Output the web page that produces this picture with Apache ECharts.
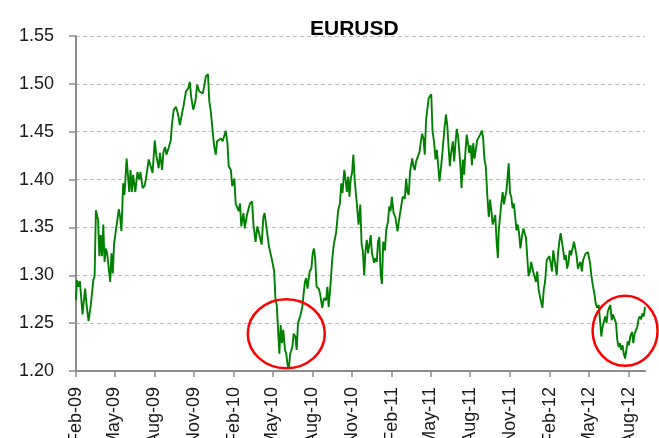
<!DOCTYPE html>
<html>
<head>
<meta charset="utf-8">
<script src="https://cdn.jsdelivr.net/npm/echarts@6/dist/echarts.min.js"></script>
<style>
  html, body { margin: 0; padding: 0; background: #fff; }
  #main { width: 659px; height: 438px; }
</style>
</head>
<body>
<div id="main"></div>
<script>
// days counted from START, EURUSD spot rate
var START = '2009-02-01';
var days = [
  0, 2, 6, 9, 15, 21, 25, 29, 34, 37, 40, 43, 46, 51, 54, 57, 60, 63, 66, 69, 72, 79, 82, 85, 88, 92,
  99, 102, 105, 109, 112, 117, 120, 123, 126, 129, 132, 137, 142, 146, 149, 154, 159, 163, 168, 172,
  177, 182, 186, 191, 194, 199, 202, 206, 209, 214, 219, 222, 226, 231, 236, 240, 245, 249, 254, 259,
  263, 266, 271, 276, 280, 285, 288, 293, 297, 300, 305, 308, 311, 316, 319, 323, 326, 330,
  335, 339, 346, 350, 353, 358, 361, 366, 369, 373, 376, 379, 382, 387, 390, 395, 399, 402, 407, 410,
  415, 419, 424, 429, 433, 436, 441, 446, 450, 453, 458, 461, 464, 467, 470, 473, 476, 479, 483, 486,
  489, 492, 495, 500, 503, 507, 510, 513, 518, 523, 526, 529, 532, 535, 540, 544, 547, 550, 553, 556,
  561, 564, 569, 573, 578, 581, 584, 589, 592, 596, 601, 606, 610, 613, 616, 620, 623, 626, 629, 632,
  635, 638, 641, 644, 649, 653,
  657, 660, 663, 666, 669, 672, 675, 678, 681, 684, 689, 692, 695, 698, 701, 704, 707, 710, 714, 717,
  721, 724, 727, 730, 734, 738, 743, 746, 750, 755, 760, 763, 766, 769, 772, 777, 780, 783, 786, 790,
  794, 797, 800, 803, 806, 809, 812, 815, 818, 821, 824, 827, 831, 834, 837, 840, 843, 846, 849, 852,
  855, 858, 861, 864, 867, 871, 874, 877, 880, 883, 886, 889, 891, 894, 897, 900, 903, 906, 909, 912,
  915, 918, 921, 924, 927, 931, 934, 938, 941, 944, 947, 951, 954, 957, 960, 963, 966, 969, 972, 975,
  977, 980, 983, 986, 989, 992, 995, 1000, 1003, 1006, 1009, 1012, 1015, 1018, 1021, 1024, 1027, 1031,
  1034, 1037, 1040, 1043, 1046, 1049, 1052, 1055, 1058, 1063, 1066, 1069, 1072, 1075, 1078, 1081, 1084,
  1088, 1091, 1094, 1097, 1100, 1103, 1106, 1111, 1114, 1117, 1120, 1123, 1126, 1129, 1132, 1135, 1138,
  1141, 1144, 1148, 1151, 1154, 1157, 1160, 1163, 1166, 1169, 1172, 1175, 1178, 1183, 1188, 1191, 1195,
  1198, 1201, 1204, 1208, 1211, 1214, 1217, 1220, 1223, 1226, 1229, 1232, 1235, 1238, 1241, 1245, 1248,
  1251, 1254, 1257, 1260, 1263, 1266, 1269, 1272, 1275, 1278, 1281, 1285, 1288, 1291, 1294, 1297, 1300,
  1303, 1306, 1309, 1312, 1315
];
var rates = [
  1.274, 1.295, 1.288, 1.294, 1.259, 1.286, 1.267, 1.252, 1.268, 1.267, 1.295, 1.299, 1.368, 1.358, 1.320,
  1.342, 1.320, 1.353, 1.314, 1.328, 1.323, 1.293, 1.323, 1.302, 1.333, 1.335,
  1.369, 1.361, 1.346, 1.396, 1.384, 1.422, 1.421, 1.387, 1.410, 1.387, 1.405, 1.387, 1.408, 1.400, 1.408,
  1.391, 1.394, 1.405, 1.421, 1.422, 1.407, 1.441, 1.424, 1.412, 1.428, 1.410, 1.429, 1.434, 1.426, 1.433,
  1.441, 1.459, 1.473, 1.476, 1.468, 1.457, 1.469, 1.478, 1.492, 1.495, 1.502, 1.487, 1.473, 1.482, 1.499,
  1.492, 1.494, 1.490, 1.499, 1.508, 1.510, 1.482, 1.473, 1.450, 1.436, 1.426, 1.440, 1.441,
  1.443, 1.440, 1.451, 1.438, 1.414, 1.410, 1.393, 1.401, 1.375, 1.377, 1.367, 1.375, 1.351, 1.365, 1.349,
  1.363, 1.365, 1.375, 1.377, 1.353, 1.335, 1.351, 1.342, 1.332, 1.361, 1.365, 1.347, 1.330, 1.332, 1.316,
  1.304, 1.274, 1.269, 1.243, 1.218, 1.248, 1.229, 1.243, 1.222, 1.218, 1.206, 1.203, 1.218, 1.225, 1.239,
  1.236, 1.222, 1.250, 1.257, 1.267, 1.265, 1.293, 1.297, 1.286, 1.304, 1.307, 1.323, 1.328, 1.316, 1.288,
  1.286, 1.281, 1.266, 1.276, 1.274, 1.288, 1.267, 1.295, 1.316, 1.333, 1.344, 1.368, 1.375, 1.396, 1.386,
  1.410, 1.400, 1.387, 1.403, 1.382, 1.401, 1.407, 1.426, 1.400, 1.375, 1.353,
  1.374, 1.333, 1.325, 1.300, 1.325, 1.337, 1.323, 1.332, 1.342, 1.323, 1.313, 1.318, 1.314, 1.335, 1.340,
  1.302, 1.291, 1.335, 1.326, 1.347, 1.356, 1.372, 1.367, 1.382, 1.365, 1.361, 1.346, 1.356, 1.358, 1.382,
  1.380, 1.401, 1.387, 1.384, 1.408, 1.422, 1.414, 1.410, 1.419, 1.421, 1.429, 1.440, 1.448, 1.443, 1.426,
  1.462, 1.461, 1.485, 1.483, 1.489, 1.450, 1.441, 1.421, 1.431, 1.415, 1.398, 1.410, 1.424, 1.440, 1.455,
  1.468, 1.457, 1.434, 1.414, 1.428, 1.440, 1.419, 1.438, 1.453, 1.445, 1.429, 1.410, 1.391, 1.421, 1.405,
  1.429, 1.447, 1.448, 1.428, 1.436, 1.415, 1.438, 1.422, 1.431, 1.441, 1.443, 1.447, 1.451, 1.443, 1.421,
  1.414, 1.380, 1.361, 1.379, 1.367, 1.353, 1.351, 1.363, 1.335, 1.318,
  1.347, 1.361, 1.375, 1.387, 1.374, 1.382, 1.389, 1.417, 1.386, 1.382, 1.370, 1.375, 1.361, 1.347, 1.353,
  1.344, 1.328, 1.342, 1.349, 1.347, 1.339, 1.318, 1.299, 1.304, 1.314, 1.307, 1.306, 1.293, 1.304, 1.286,
  1.278, 1.272, 1.266, 1.285, 1.293, 1.316, 1.314, 1.320, 1.313, 1.304, 1.326, 1.325, 1.300, 1.323, 1.335,
  1.344, 1.346, 1.326, 1.316, 1.321, 1.307, 1.313, 1.326, 1.321, 1.323, 1.335, 1.335, 1.320, 1.307, 1.311,
  1.314, 1.304, 1.316, 1.314, 1.323, 1.324, 1.313, 1.300, 1.288, 1.281, 1.271, 1.266, 1.269, 1.253, 1.236,
  1.246, 1.252, 1.257, 1.250, 1.262, 1.266, 1.269, 1.253, 1.259, 1.260, 1.250, 1.232, 1.225, 1.229, 1.222,
  1.227, 1.218, 1.213, 1.222, 1.231, 1.227, 1.236, 1.241, 1.229, 1.239, 1.237, 1.246, 1.254, 1.257, 1.254,
  1.260, 1.257, 1.267
];
var tickDates = ['2009-02-01', '2009-05-01', '2009-08-01', '2009-11-01', '2010-02-01', '2010-05-01',
  '2010-08-01', '2010-11-01', '2011-02-01', '2011-05-01', '2011-08-01', '2011-11-01', '2012-02-01',
  '2012-05-01', '2012-08-01'];
var tickLabels = ['Feb-09', 'May-09', 'Aug-09', 'Nov-09', 'Feb-10', 'May-10', 'Aug-10', 'Nov-10',
  'Feb-11', 'May-11', 'Aug-11', 'Nov-11', 'Feb-12', 'May-12', 'Aug-12'];
var yTicks = [1.20, 1.25, 1.30, 1.35, 1.40, 1.45, 1.50, 1.55];
// red rings drawn round the two lows: [day, rate] of their centres
var ringCentres = [[486, 1.239], [1269, 1.242]];

var DAY = 86400000;
var t0 = Date.parse(START);
var tickDays = tickDates.map(function (d) { return Math.round((Date.parse(d) - t0) / DAY); });
var seriesData = days.map(function (d, i) { return [d, rates[i]]; });

var font = "'Liberation Sans', Arial, sans-serif";
var myChart = echarts.init(document.getElementById('main'));
var option = {
  animation: false,
  title: {
    text: 'EURUSD',
    left: 305,
    top: 14,
    textStyle: { fontFamily: font, fontSize: 21, fontWeight: 'bold', color: '#000' }
  },
  grid: { left: 76, right: 14, top: 36, bottom: 67, outerBoundsMode: 'none', containLabel: false },
  xAxis: {
    type: 'value',
    min: 0,
    max: days[days.length - 1],
    splitLine: { show: false },
    axisLine: { lineStyle: { color: '#8c8c8c', width: 2 } },
    axisTick: { length: 6, lineStyle: { color: '#8c8c8c', width: 1.5 }, customValues: tickDays },
    axisLabel: {
      customValues: tickDays,
      rotate: 90,
      margin: 16,
      fontFamily: font,
      fontSize: 18,
      color: '#1a1a1a',
      hideOverlap: false,
      formatter: function (v) {
        var i = tickDays.indexOf(Math.round(v));
        return i >= 0 ? tickLabels[i] : '';
      }
    }
  },
  yAxis: {
    type: 'value',
    min: yTicks[0],
    max: yTicks[yTicks.length - 1],
    interval: 0.05,
    axisLine: { show: true, lineStyle: { color: '#8c8c8c', width: 2 } },
    axisTick: { show: true, length: 7, lineStyle: { color: '#8c8c8c', width: 1.5 } },
    splitLine: { lineStyle: { color: '#bdbdbd', type: [4, 3], width: 1 } },
    axisLabel: {
      margin: 22,
      fontFamily: font,
      fontSize: 18,
      color: '#1a1a1a',
      formatter: function (v) { return v.toFixed(2); }
    }
  },
  series: [{
    name: 'EURUSD',
    type: 'line',
    data: seriesData,
    showSymbol: false,
    lineStyle: { color: '#008000', width: 1.9 },
    z: 3
  }]
};
myChart.setOption(option);

// 圈出两个低点
var ringSize = [[38.5, 34.5], [32.5, 35]];
var rings = ringCentres.map(function (c, i) {
  var p = myChart.convertToPixel({ gridIndex: 0 }, c);
  return {
    type: 'ellipse',
    shape: { cx: p[0], cy: p[1], rx: ringSize[i][0], ry: ringSize[i][1] },
    style: { fill: null, stroke: '#ff0000', lineWidth: 2.5 },
    z: 10
  };
});
myChart.setOption({ graphic: rings });
</script>
</body>
</html>
